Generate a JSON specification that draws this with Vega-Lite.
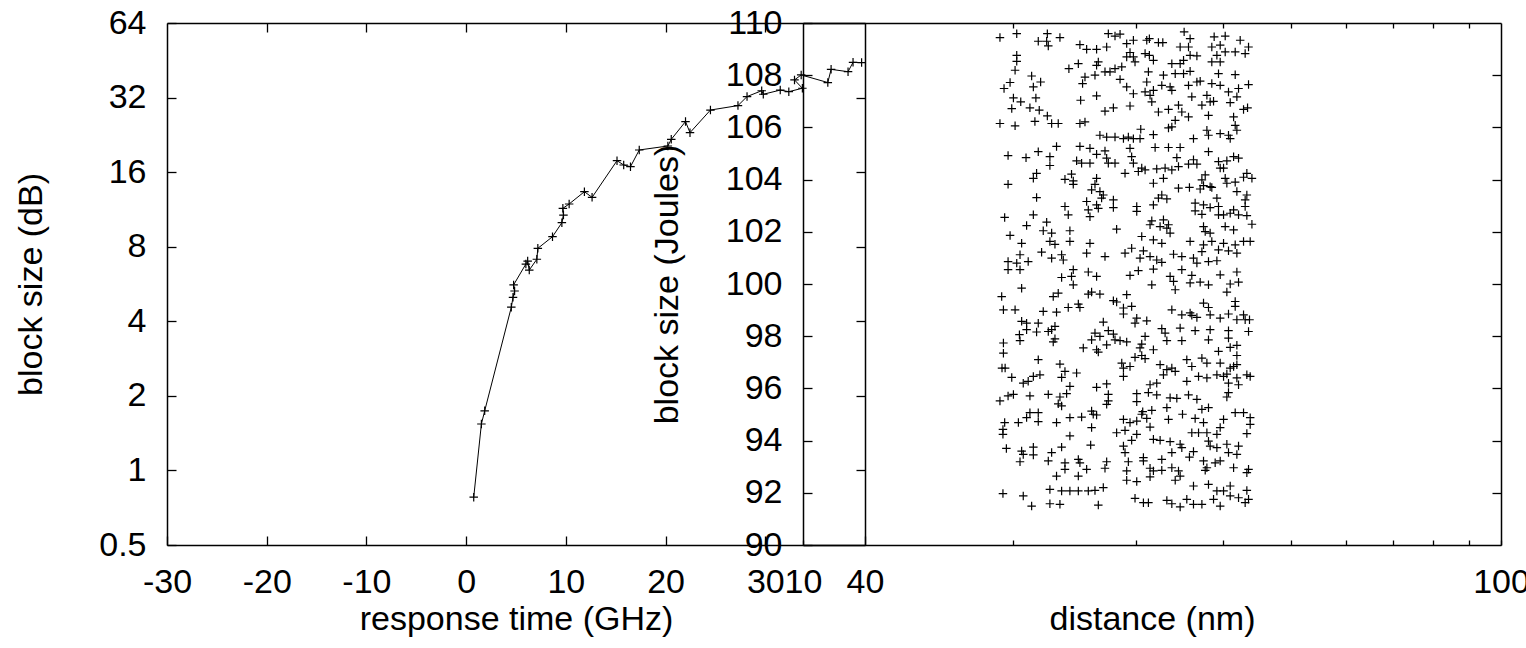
{
"$schema": "https://vega.github.io/schema/vega-lite/v6.json",
"width": 1334,
"height": 522,
"autosize": {"type": "none"},
"padding": {"left": 167, "top": 23, "right": 25, "bottom": 103},
"background": "white",
"config": {
  "view": {"stroke": null},
  "axis": {"domainColor": "#000", "domainWidth": 1.5, "tickColor": "#000", "tickWidth": 1.3, "labelFont": "Liberation Sans", "labelFontSize": 34, "labelColor": "#000", "titleFont": "Liberation Sans", "titleFontSize": 34, "titleFontWeight": "normal", "titleColor": "#000", "grid": false, "labelFlush": false, "labelOverlap": false, "labelBound": false}
},
"datasets": {
  "curve": [
    {"i":1,"t":0.76,"b":0.78},{"i":2,"t":1.53,"b":1.54},{"i":3,"t":1.86,"b":1.74},{"i":4,"t":4.53,"b":4.56},{"i":5,"t":4.70,"b":5.0},{"i":6,"t":4.86,"b":5.30},{"i":7,"t":4.76,"b":5.61},{"i":8,"t":5.99,"b":6.81},{"i":9,"t":6.17,"b":7.0},{"i":10,"t":6.33,"b":6.44},{"i":11,"t":7.09,"b":7.12},{"i":12,"t":7.19,"b":7.88},{"i":13,"t":8.66,"b":8.78},{"i":14,"t":9.60,"b":10.0},{"i":15,"t":9.76,"b":10.74},{"i":16,"t":9.70,"b":11.43},{"i":17,"t":10.33,"b":11.9},{"i":18,"t":11.86,"b":13.34},{"i":19,"t":12.63,"b":12.66},{"i":20,"t":15.13,"b":17.8},{"i":21,"t":15.8,"b":17.1},{"i":22,"t":16.48,"b":16.83},{"i":23,"t":17.36,"b":19.66},{"i":24,"t":20.23,"b":20.4},{"i":25,"t":20.57,"b":21.7},{"i":26,"t":22.0,"b":25.6},{"i":27,"t":22.45,"b":23.1},{"i":28,"t":24.5,"b":28.5},{"i":29,"t":27.26,"b":29.7},{"i":30,"t":28.17,"b":32.3},{"i":31,"t":29.64,"b":34.1},{"i":32,"t":29.8,"b":33.0},{"i":33,"t":31.5,"b":34.3},{"i":34,"t":32.36,"b":33.8},{"i":35,"t":33.72,"b":34.9},{"i":36,"t":32.93,"b":37.7},{"i":37,"t":33.6,"b":39.5},{"i":38,"t":36.27,"b":36.8},{"i":39,"t":36.6,"b":41.6},{"i":40,"t":38.3,"b":40.7},{"i":41,"t":38.8,"b":44.4},{"i":42,"t":39.66,"b":44.3}
  ],
  "scatter": [
{"d":19.15,"j":109.44},{"d":20.24,"j":109.59},{"d":21.73,"j":109.30},{"d":22.39,"j":109.59},{"d":22.34,"j":109.30},{"d":22.46,"j":109.12},{"d":23.34,"j":109.44},{"d":20.24,"j":108.76},{"d":20.24,"j":108.53},{"d":20.13,"j":108.19},{"d":21.26,"j":107.97},{"d":21.90,"j":107.74},{"d":21.38,"j":107.55},{"d":19.80,"j":107.72},{"d":19.41,"j":107.49},{"d":20.02,"j":107.13},{"d":20.51,"j":106.98},{"d":21.56,"j":107.13},{"d":19.91,"j":106.72},{"d":21.14,"j":106.75},{"d":21.80,"j":106.66},{"d":22.39,"j":106.44},{"d":19.15,"j":106.15},{"d":20.13,"j":106.06},{"d":21.49,"j":106.23},{"d":22.71,"j":106.15},{"d":23.21,"j":106.15},
{"d":24.04,"j":108.25},{"d":24.80,"j":108.44},{"d":26.34,"j":108.38},{"d":26.49,"j":108.51},{"d":27.08,"j":108.13},{"d":27.53,"j":108.13},{"d":27.99,"j":108.25},{"d":28.62,"j":108.32},{"d":24.93,"j":109.17},{"d":25.49,"j":108.99},{"d":26.34,"j":108.99},{"d":27.23,"j":109.08},{"d":25.35,"j":107.93},{"d":26.20,"j":108.00},{"d":25.15,"j":107.68},{"d":26.34,"j":107.21},{"d":24.99,"j":107.04},{"d":27.08,"j":106.62},{"d":27.84,"j":106.75},{"d":29.41,"j":106.82},{"d":24.93,"j":106.15},{"d":25.35,"j":106.21},{"d":26.63,"j":105.70},{"d":27.23,"j":105.63},{"d":27.99,"j":105.63},{"d":28.78,"j":105.57},{"d":29.25,"j":105.63},{"d":29.74,"j":105.57},{"d":30.40,"j":105.57},{"d":30.47,"j":105.93},{"d":31.77,"j":105.72},{"d":28.46,"j":107.84},{"d":29.09,"j":107.55},{"d":29.74,"j":107.29},{"d":30.91,"j":107.36},{"d":31.42,"j":107.23},{"d":31.77,"j":107.42},{"d":31.60,"j":106.98},{"d":31.08,"j":107.74},{"d":31.25,"j":108.13},{"d":29.41,"j":108.87},{"d":29.09,"j":108.70},{"d":29.74,"j":108.70},{"d":29.90,"j":108.51},{"d":30.91,"j":108.83},{"d":31.35,"j":108.76},{"d":31.77,"j":108.57},{"d":31.08,"j":109.34},{"d":32.30,"j":109.25},{"d":32.77,"j":109.25},{"d":32.84,"j":108.00},{"d":32.66,"j":107.61},{"d":33.57,"j":107.55},{"d":33.76,"j":107.42},{"d":33.76,"j":108.44},{"d":34.70,"j":108.44},{"d":35.09,"j":108.57},{"d":35.86,"j":108.76},{"d":36.67,"j":108.74},{"d":34.14,"j":108.06},{"d":35.09,"j":108.06},{"d":35.86,"j":108.15},{"d":35.67,"j":107.61},{"d":36.67,"j":107.74},{"d":37.07,"j":107.77},{"d":36.06,"j":107.17},{"d":37.28,"j":106.85},{"d":37.90,"j":107.23},{"d":38.31,"j":106.98},{"d":38.74,"j":107.00},{"d":40.93,"j":106.95},{"d":41.84,"j":107.17},{"d":32.30,"j":106.59},{"d":33.39,"j":106.69},{"d":34.51,"j":106.85},{"d":34.89,"j":106.59},{"d":35.67,"j":106.40},{"d":38.10,"j":106.46},{"d":34.14,"j":106.27},{"d":33.76,"j":106.02},{"d":33.39,"j":105.98},{"d":36.26,"j":105.57},{"d":37.90,"j":105.89},{"d":38.10,"j":105.70},{"d":39.60,"j":105.76},{"d":40.70,"j":105.70},{"d":40.93,"j":105.57},{"d":41.61,"j":106.08},{"d":41.84,"j":105.89},{"d":41.39,"j":106.40},{"d":42.77,"j":106.69},{"d":43.34,"j":106.75},{"d":38.52,"j":109.08},{"d":39.60,"j":109.15},{"d":40.26,"j":109.50},{"d":39.17,"j":108.76},{"d":40.26,"j":108.89},{"d":41.61,"j":108.89},{"d":43.00,"j":108.83},{"d":43.48,"j":109.08},{"d":42.30,"j":109.34},{"d":38.82,"j":109.47},{"d":38.52,"j":108.51},{"d":39.60,"j":108.51},{"d":39.38,"j":108.06},{"d":41.61,"j":108.02},{"d":38.52,"j":107.68},{"d":39.60,"j":107.61},{"d":40.70,"j":107.36},{"d":42.07,"j":107.49},{"d":43.48,"j":107.64},{"d":35.16,"j":109.66},{"d":35.86,"j":109.40},{"d":34.70,"j":109.08},{"d":35.67,"j":109.08},{"d":27.38,"j":109.59},{"d":27.99,"j":109.50},{"d":28.46,"j":109.57},{"d":29.09,"j":109.21},{"d":29.74,"j":109.34},{"d":31.35,"j":109.40},
{"d":19.67,"j":104.92},{"d":20.87,"j":104.84},{"d":21.73,"j":105.07},{"d":22.58,"j":104.88},{"d":22.58,"j":104.54},{"d":23.08,"j":105.27},{"d":24.93,"j":105.27},{"d":25.77,"j":105.20},{"d":27.08,"j":105.10},{"d":26.34,"j":104.97},{"d":27.23,"j":104.82},{"d":27.99,"j":104.63},{"d":27.38,"j":104.63},{"d":29.41,"j":105.20},{"d":29.57,"j":104.88},{"d":29.74,"j":104.63},{"d":31.95,"j":105.23},{"d":33.39,"j":105.23},{"d":34.70,"j":105.23},{"d":34.32,"j":104.84},{"d":34.51,"j":104.50},{"d":35.67,"j":104.59},{"d":36.67,"j":104.59},{"d":36.26,"j":104.76},{"d":38.10,"j":105.07},{"d":39.38,"j":104.69},{"d":39.60,"j":104.44},{"d":40.48,"j":104.72},{"d":41.39,"j":104.88},{"d":42.07,"j":104.82},{"d":21.61,"j":104.24},{"d":21.38,"j":104.05},{"d":19.67,"j":103.82},{"d":24.25,"j":104.21},{"d":23.73,"j":104.01},{"d":24.39,"j":103.95},{"d":24.39,"j":103.82},{"d":24.66,"j":104.72},{"d":25.07,"j":104.63},{"d":25.77,"j":104.63},{"d":26.34,"j":104.05},{"d":26.20,"j":103.82},{"d":25.91,"j":103.61},{"d":26.63,"j":103.54},{"d":26.93,"j":103.41},{"d":26.78,"j":103.29},{"d":27.84,"j":103.22},{"d":27.84,"j":102.93},{"d":28.93,"j":104.24},{"d":30.23,"j":104.31},{"d":30.57,"j":104.44},{"d":30.91,"j":104.37},{"d":32.12,"j":104.41},{"d":33.02,"j":104.44},{"d":33.76,"j":104.37},{"d":32.84,"j":104.05},{"d":31.77,"j":103.86},{"d":32.66,"j":103.41},{"d":32.30,"j":103.29},{"d":33.21,"j":103.26},{"d":31.77,"j":103.03},{"d":34.51,"j":103.67},{"d":35.78,"j":103.70},{"d":37.07,"j":103.64},{"d":37.48,"j":103.77},{"d":37.28,"j":103.99},{"d":38.31,"j":103.73},{"d":37.69,"j":104.18},{"d":38.52,"j":103.70},{"d":40.04,"j":104.44},{"d":40.26,"j":104.05},{"d":40.48,"j":103.86},{"d":41.61,"j":103.90},{"d":43.24,"j":104.24},{"d":42.77,"j":104.09},{"d":43.97,"j":104.05},{"d":21.61,"j":103.31},{"d":23.73,"j":102.97},{"d":23.99,"j":102.65},{"d":21.38,"j":102.65},{"d":19.45,"j":102.55},{"d":25.49,"j":103.16},{"d":25.63,"j":102.84},{"d":25.77,"j":102.58},{"d":26.49,"j":102.90},{"d":26.34,"j":103.03},{"d":30.07,"j":102.97},{"d":30.07,"j":102.78},{"d":36.46,"j":103.10},{"d":37.48,"j":103.03},{"d":38.31,"j":102.93},{"d":36.46,"j":102.80},{"d":37.28,"j":102.67},{"d":39.17,"j":103.29},{"d":39.38,"j":102.97},{"d":39.38,"j":102.65},{"d":40.04,"j":102.65},{"d":40.93,"j":102.71},{"d":42.07,"j":102.65},{"d":43.24,"j":102.62},{"d":41.39,"j":102.84},{"d":43.00,"j":103.22},{"d":43.24,"j":103.41},{"d":41.84,"j":103.54},{"d":43.00,"j":102.97},{"d":20.91,"j":102.24},{"d":22.34,"j":102.37},{"d":22.09,"j":102.04},{"d":22.71,"j":101.95},{"d":24.12,"j":102.04},{"d":19.80,"j":101.86},{"d":20.57,"j":101.56},{"d":22.58,"j":101.63},{"d":22.96,"j":101.52},{"d":24.12,"j":101.63},{"d":25.77,"j":101.56},{"d":28.14,"j":102.10},{"d":31.60,"j":102.42},{"d":31.42,"j":102.27},{"d":32.84,"j":102.46},{"d":32.48,"j":102.20},{"d":33.21,"j":102.14},{"d":33.39,"j":102.27},{"d":33.57,"j":101.95},{"d":30.57,"j":101.82},{"d":31.77,"j":101.69},{"d":32.66,"j":101.56},{"d":35.86,"j":101.63},{"d":37.69,"j":102.01},{"d":37.48,"j":102.20},{"d":38.31,"j":101.95},{"d":38.52,"j":101.63},{"d":37.48,"j":101.50},{"d":37.28,"j":101.24},{"d":40.26,"j":102.20},{"d":41.39,"j":102.07},{"d":43.97,"j":102.29},{"d":40.04,"j":101.56},{"d":41.61,"j":101.50},{"d":42.77,"j":101.63},{"d":43.72,"j":101.63},{"d":39.38,"j":101.31},{"d":40.70,"j":101.27},{"d":41.84,"j":101.18},{"d":20.46,"j":101.12},{"d":21.97,"j":101.22},{"d":22.71,"j":100.99},{"d":23.47,"j":101.12},{"d":23.60,"j":100.92},{"d":25.49,"j":101.18},{"d":27.08,"j":101.05},{"d":28.93,"j":101.18},{"d":29.57,"j":101.37},{"d":30.74,"j":101.27},{"d":30.40,"j":100.99},{"d":31.42,"j":101.05},{"d":32.12,"j":100.92},{"d":32.66,"j":100.83},{"d":33.95,"j":101.14},{"d":34.89,"j":101.05},{"d":36.26,"j":100.99},{"d":36.67,"j":100.80},{"d":38.10,"j":100.86},{"d":39.17,"j":100.89},{"d":19.67,"j":100.86},{"d":20.24,"j":100.80},{"d":21.02,"j":100.86},
{"d":19.67,"j":100.55},{"d":20.46,"j":100.55},{"d":23.47,"j":100.25},{"d":24.25,"j":100.29},{"d":24.39,"j":100.55},{"d":25.63,"j":100.46},{"d":26.34,"j":100.29},{"d":29.41,"j":100.33},{"d":30.23,"j":100.51},{"d":31.77,"j":100.57},{"d":33.57,"j":100.29},{"d":34.89,"j":100.55},{"d":36.06,"j":100.33},{"d":39.60,"j":100.35},{"d":41.84,"j":100.46},{"d":20.57,"j":99.84},{"d":19.26,"j":99.52},{"d":22.83,"j":99.52},{"d":23.21,"j":99.65},{"d":24.39,"j":99.97},{"d":25.63,"j":99.61},{"d":25.91,"j":99.69},{"d":26.63,"j":99.61},{"d":29.09,"j":99.59},{"d":31.60,"j":99.97},{"d":33.95,"j":100.10},{"d":34.14,"j":99.78},{"d":35.86,"j":100.04},{"d":37.07,"j":100.07},{"d":38.10,"j":99.97},{"d":40.93,"j":100.00},{"d":40.48,"j":99.69},{"d":42.07,"j":100.07},{"d":19.37,"j":99.01},{"d":20.13,"j":99.01},{"d":22.09,"j":98.95},{"d":23.08,"j":98.92},{"d":23.99,"j":99.10},{"d":24.80,"j":99.23},{"d":24.93,"j":99.10},{"d":27.84,"j":99.36},{"d":28.14,"j":99.31},{"d":28.78,"j":99.08},{"d":28.78,"j":98.85},{"d":29.57,"j":99.14},{"d":30.07,"j":98.69},{"d":31.08,"j":98.59},{"d":29.90,"j":98.50},{"d":33.76,"j":99.01},{"d":34.89,"j":98.82},{"d":35.86,"j":98.89},{"d":36.67,"j":98.72},{"d":36.06,"j":98.80},{"d":38.10,"j":99.10},{"d":38.31,"j":98.82},{"d":39.60,"j":98.69},{"d":40.70,"j":98.85},{"d":41.84,"j":98.63},{"d":43.00,"j":98.63},{"d":43.62,"j":98.63},{"d":42.77,"j":98.82},{"d":37.48,"j":99.27},{"d":41.61,"j":99.33},{"d":41.61,"j":99.14},{"d":20.57,"j":98.57},{"d":20.91,"j":98.50},{"d":21.73,"j":98.50},{"d":22.71,"j":98.25},{"d":22.96,"j":98.38},{"d":22.46,"j":98.18},{"d":21.61,"j":98.16},{"d":20.91,"j":98.25},{"d":20.42,"j":98.06},{"d":20.46,"j":97.83},{"d":19.37,"j":97.74},{"d":22.96,"j":97.90},{"d":22.83,"j":97.78},{"d":25.21,"j":97.55},{"d":25.91,"j":97.86},{"d":26.20,"j":98.12},{"d":26.63,"j":97.99},{"d":26.93,"j":98.54},{"d":27.38,"j":98.21},{"d":27.84,"j":98.08},{"d":27.99,"j":97.86},{"d":27.23,"j":97.67},{"d":26.34,"j":97.48},{"d":26.49,"j":97.39},{"d":28.46,"j":97.83},{"d":29.09,"j":97.78},{"d":30.57,"j":97.70},{"d":30.91,"j":97.99},{"d":30.40,"j":97.55},{"d":32.66,"j":98.29},{"d":33.02,"j":98.12},{"d":33.21,"j":97.83},{"d":34.89,"j":97.83},{"d":34.70,"j":98.31},{"d":36.46,"j":98.21},{"d":38.31,"j":98.25},{"d":38.10,"j":97.86},{"d":40.70,"j":98.21},{"d":40.70,"j":97.93},{"d":40.93,"j":97.57},{"d":41.84,"j":97.65},{"d":43.48,"j":98.18},{"d":19.37,"j":97.35},{"d":21.73,"j":97.10},{"d":23.34,"j":96.93},{"d":19.28,"j":96.78},{"d":19.48,"j":96.78},{"d":19.91,"j":96.42},{"d":21.38,"j":96.46},{"d":21.85,"j":96.52},{"d":20.68,"j":96.20},{"d":21.02,"j":96.27},{"d":23.47,"j":96.42},{"d":23.73,"j":96.65},{"d":24.66,"j":96.59},{"d":24.12,"j":96.08},{"d":28.62,"j":96.97},{"d":28.78,"j":96.78},{"d":29.41,"j":96.84},{"d":29.90,"j":97.19},{"d":30.57,"j":97.26},{"d":30.91,"j":97.14},{"d":31.77,"j":97.48},{"d":32.48,"j":96.91},{"d":33.21,"j":96.72},{"d":33.76,"j":96.78},{"d":34.14,"j":96.65},{"d":32.84,"j":96.52},{"d":32.12,"j":96.20},{"d":31.42,"j":96.14},{"d":28.78,"j":96.46},{"d":27.23,"j":96.17},{"d":26.34,"j":96.04},{"d":35.47,"j":97.10},{"d":36.06,"j":96.84},{"d":37.28,"j":97.16},{"d":37.90,"j":96.97},{"d":39.38,"j":97.42},{"d":39.60,"j":96.97},{"d":41.84,"j":97.26},{"d":41.39,"j":96.84},{"d":40.93,"j":96.78},{"d":41.84,"j":96.91},{"d":35.47,"j":96.27},{"d":36.87,"j":96.46},{"d":37.90,"j":96.40},{"d":39.17,"j":96.52},{"d":40.04,"j":96.46},{"d":40.48,"j":96.55},{"d":41.84,"j":96.40},{"d":40.70,"j":96.20},{"d":42.07,"j":96.14},{"d":43.24,"j":96.52},{"d":43.72,"j":96.46},
{"d":19.15,"j":95.52},{"d":19.67,"j":95.71},{"d":20.02,"j":95.77},{"d":21.14,"j":95.71},{"d":22.46,"j":95.77},{"d":23.34,"j":95.67},{"d":23.86,"j":95.80},{"d":23.47,"j":95.33},{"d":23.21,"j":95.41},{"d":27.38,"j":95.77},{"d":27.23,"j":95.39},{"d":27.38,"j":95.52},{"d":30.07,"j":95.80},{"d":30.07,"j":95.49},{"d":31.25,"j":95.84},{"d":32.12,"j":95.75},{"d":33.57,"j":95.64},{"d":34.32,"j":95.62},{"d":35.67,"j":95.75},{"d":36.67,"j":95.58},{"d":40.48,"j":95.67},{"d":40.70,"j":95.84},{"d":19.45,"j":94.69},{"d":19.34,"j":94.43},{"d":19.34,"j":94.24},{"d":20.35,"j":94.69},{"d":21.14,"j":95.07},{"d":21.73,"j":95.07},{"d":20.91,"j":94.88},{"d":21.73,"j":94.73},{"d":23.08,"j":94.69},{"d":24.12,"j":94.88},{"d":25.07,"j":94.90},{"d":25.91,"j":95.13},{"d":26.05,"j":95.01},{"d":26.34,"j":94.98},{"d":25.91,"j":94.50},{"d":28.78,"j":94.81},{"d":29.41,"j":94.69},{"d":30.07,"j":94.75},{"d":30.57,"j":95.01},{"d":30.67,"j":95.11},{"d":31.08,"j":94.85},{"d":31.60,"j":95.16},{"d":31.42,"j":94.52},{"d":28.14,"j":94.30},{"d":28.93,"j":94.39},{"d":29.57,"j":94.01},{"d":30.07,"j":94.24},{"d":33.21,"j":95.26},{"d":33.39,"j":94.81},{"d":34.97,"j":95.01},{"d":36.46,"j":94.85},{"d":37.28,"j":95.20},{"d":38.10,"j":95.26},{"d":37.48,"j":94.69},{"d":36.06,"j":94.30},{"d":36.87,"j":94.30},{"d":37.90,"j":94.30},{"d":39.17,"j":94.24},{"d":39.60,"j":94.50},{"d":40.04,"j":94.81},{"d":41.61,"j":95.07},{"d":42.77,"j":95.07},{"d":43.72,"j":94.88},{"d":43.72,"j":94.62},{"d":43.24,"j":94.27},{"d":24.12,"j":94.18},{"d":19.56,"j":93.70},{"d":20.57,"j":93.60},{"d":20.68,"j":93.47},{"d":21.38,"j":93.75},{"d":21.38,"j":93.45},{"d":22.71,"j":93.54},{"d":23.47,"j":93.75},{"d":25.83,"j":93.83},{"d":31.77,"j":94.05},{"d":32.48,"j":94.01},{"d":33.57,"j":93.96},{"d":34.70,"j":93.86},{"d":34.89,"j":93.73},{"d":36.26,"j":93.58},{"d":35.78,"j":93.37},{"d":33.76,"j":93.54},{"d":38.10,"j":93.98},{"d":38.31,"j":93.79},{"d":39.17,"j":93.73},{"d":40.48,"j":93.86},{"d":42.07,"j":93.79},{"d":40.70,"j":93.54},{"d":41.84,"j":93.47},{"d":28.78,"j":93.79},{"d":28.93,"j":93.54},{"d":30.74,"j":93.35},{"d":30.74,"j":93.22},{"d":29.25,"j":93.19},{"d":32.66,"j":93.28},{"d":20.46,"j":93.19},{"d":22.46,"j":93.22},{"d":23.73,"j":93.15},{"d":23.73,"j":92.90},{"d":23.08,"j":92.64},{"d":24.80,"j":93.28},{"d":24.93,"j":93.15},{"d":25.49,"j":92.90},{"d":27.23,"j":93.19},{"d":27.08,"j":92.94},{"d":24.80,"j":92.64},{"d":29.09,"j":92.84},{"d":31.42,"j":92.94},{"d":31.77,"j":92.84},{"d":31.42,"j":92.61},{"d":32.66,"j":92.86},{"d":33.76,"j":92.96},{"d":34.51,"j":92.84},{"d":34.70,"j":92.64},{"d":34.14,"j":92.48},{"d":37.48,"j":93.22},{"d":37.90,"j":92.96},{"d":38.95,"j":93.15},{"d":39.60,"j":93.22},{"d":41.39,"j":92.96},{"d":43.48,"j":92.90},{"d":43.24,"j":92.77},{"d":37.69,"j":92.86},{"d":29.09,"j":92.48},{"d":30.07,"j":92.43},{"d":36.26,"j":92.26},{"d":38.10,"j":92.32},{"d":40.93,"j":92.26},{"d":39.17,"j":92.07},{"d":40.04,"j":92.07},{"d":40.93,"j":91.88},{"d":43.24,"j":92.09},{"d":42.07,"j":91.81},{"d":43.48,"j":91.75},{"d":43.00,"j":91.62},{"d":19.34,"j":91.97},{"d":20.68,"j":91.88},{"d":21.26,"j":91.49},{"d":22.58,"j":92.13},{"d":22.58,"j":91.58},{"d":23.34,"j":91.56},{"d":23.47,"j":92.07},{"d":24.12,"j":92.07},{"d":24.80,"j":92.07},{"d":25.63,"j":92.07},{"d":26.20,"j":92.09},{"d":26.93,"j":92.20},{"d":26.49,"j":91.53},{"d":29.90,"j":91.79},{"d":30.74,"j":91.62},{"d":31.25,"j":91.62},{"d":33.21,"j":91.71},{"d":33.76,"j":91.58},{"d":34.70,"j":91.46},{"d":35.47,"j":91.75},{"d":36.26,"j":91.56},{"d":37.28,"j":91.56},{"d":38.74,"j":91.75},{"d":39.60,"j":91.49}
  ]
},
"resolve": {"scale": {"x": "independent", "y": "independent"}, "axis": {"x": "independent", "y": "independent"}},
"layer": [
  {
    "data": {"name": "curve"},
    "resolve": {"axis": {"x": "independent", "y": "independent"}},
    "layer": [
      {
        "mark": {"type": "line", "color": "#000", "strokeWidth": 1},
        "encoding": {
          "x": {"field": "t", "type": "quantitative", "scale": {"domain": [-30, 40], "range": [0, 698], "nice": false, "zero": false},
                "axis": {"orient": "bottom", "values": [-30, -20, -10, 0, 10, 20, 30, 40], "tickSize": -9, "labelPadding": 29, "labelExpr": "'' + datum.value", "title": "response time (GHz)", "titleY": 84, "titleBaseline": "alphabetic"}},
          "y": {"field": "b", "type": "quantitative", "scale": {"type": "log", "base": 2, "domain": [0.5, 64], "nice": false},
                "axis": {"orient": "left", "values": [0.5, 1, 2, 4, 8, 16, 32, 64], "format": "~g", "tickSize": -9, "labelPadding": 30, "title": "block size (dB)", "titleX": -126, "titleBaseline": "alphabetic"}},
          "order": {"field": "i", "type": "quantitative"}
        }
      },
      {
        "mark": {"type": "point", "shape": "M-1,0H1M0,-1V1", "filled": false, "stroke": "#000", "strokeWidth": 1.2, "size": 72, "opacity": 1},
        "encoding": {
          "x": {"field": "t", "type": "quantitative", "scale": {"domain": [-30, 40], "range": [0, 698], "nice": false, "zero": false},
                "axis": {"orient": "top", "values": [-20, -10, 0, 10, 20, 30], "tickSize": -9, "labels": false, "title": null}},
          "y": {"field": "b", "type": "quantitative", "scale": {"type": "log", "base": 2, "domain": [0.5, 64], "nice": false},
                "axis": {"orient": "right", "offset": -636, "values": [1, 2, 4, 8, 16, 32], "tickSize": -9, "labels": false, "title": null}}
        }
      }
    ]
  },
  {
    "data": {"name": "scatter"},
    "resolve": {"axis": {"x": "independent", "y": "independent"}},
    "layer": [
      {
        "mark": {"type": "point", "shape": "M-1,0H1M0,-1V1", "filled": false, "stroke": "#000", "strokeWidth": 1.2, "size": 72, "opacity": 1},
        "encoding": {
          "x": {"field": "d", "type": "quantitative", "scale": {"type": "log", "domain": [10, 100], "range": [636, 1334], "nice": false},
                "axis": {"orient": "bottom", "values": [10, 20, 30, 40, 50, 60, 70, 80, 90, 100], "tickSize": -5, "labelPadding": 25, "labelExpr": "datum.value == 10 || datum.value == 100 ? '' + datum.value : ''", "title": "distance (nm)", "titleY": 84, "titleBaseline": "alphabetic"}},
          "y": {"field": "j", "type": "quantitative", "scale": {"domain": [90, 110], "nice": false, "zero": false},
                "axis": {"orient": "left", "offset": -636, "values": [90, 92, 94, 96, 98, 100, 102, 104, 106, 108, 110], "tickSize": -9, "labelPadding": 30, "title": "block size (Joules)", "titleX": -126, "titleBaseline": "alphabetic"}}
        }
      },
      {
        "mark": {"type": "point", "opacity": 0},
        "encoding": {
          "x": {"field": "d", "type": "quantitative", "scale": {"type": "log", "domain": [10, 100], "range": [636, 1334], "nice": false},
                "axis": {"orient": "top", "values": [20, 30, 40, 50, 60, 70, 80, 90], "tickSize": -5, "labels": false, "title": null}},
          "y": {"field": "j", "type": "quantitative", "scale": {"domain": [90, 110], "nice": false, "zero": false},
                "axis": {"orient": "right", "values": [92, 94, 96, 98, 100, 102, 104, 106, 108], "tickSize": -9, "labels": false, "title": null}}
        }
      }
    ]
  }
]
}
